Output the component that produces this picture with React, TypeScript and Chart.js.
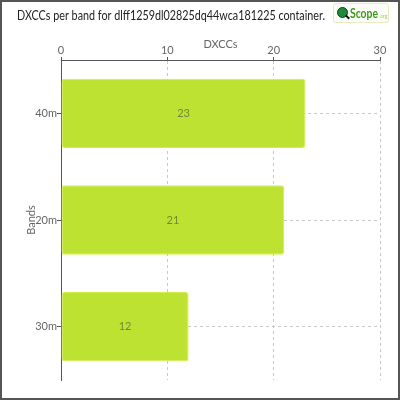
import React, { useEffect, useRef } from "react";
import { Chart, registerables } from "chart.js";

Chart.register(...registerables);

const titleText = "DXCCs per band for dlff1259dl02825dq44wca181225 container.";
const categories = ["40m", "20m", "30m"];
const values = [23, 21, 12];
const xTicks = [0, 10, 20, 30];
const xTitle = "DXCCs";
const yTitle = "Bands";

const FONT = "Lato, 'Liberation Sans', sans-serif";

const valueLabels = {
  id: "valueLabels",
  afterDatasetsDraw(chart: any) {
    const { ctx } = chart;
    const meta = chart.getDatasetMeta(0);
    ctx.save();
    ctx.font = `11px ${FONT}`;
    ctx.fillStyle = "#71893a";
    ctx.textAlign = "center";
    ctx.textBaseline = "middle";
    meta.data.forEach((bar: any, i: number) => {
      const x = (bar.x + bar.base) / 2;
      ctx.fillText(String(values[i]), x, bar.y);
    });
    ctx.restore();
  },
};

const frame = {
  id: "frame",
  beforeDraw(chart: any) {
    const { ctx, width, height } = chart;
    ctx.save();
    ctx.fillStyle = "#ffffff";
    ctx.fillRect(0, 0, width, height);
    ctx.restore();
  },
  afterDraw(chart: any) {
    const { ctx, width, height } = chart;
    ctx.save();
    // condensed title text
    ctx.font = `13px ${FONT}`;
    ctx.fillStyle = "#222222";
    ctx.textBaseline = "middle";
    ctx.textAlign = "left";
    const w = ctx.measureText(titleText).width;
    const target = 308;
    const sx = w > target ? target / w : 1;
    ctx.translate(17, 16);
    ctx.scale(sx, 1);
    ctx.fillText(titleText, 0, 0);
    ctx.restore();
    ctx.save();
    ctx.strokeStyle = "#555555";
    ctx.lineWidth = 2;
    ctx.strokeRect(1, 1, width - 2, height - 2);
    ctx.restore();
  },
};

export default function App() {
  const ref = useRef<HTMLCanvasElement | null>(null);
  useEffect(() => {
    document.body.style.margin = "0";
    if (!ref.current) return;
    const chart = new Chart(ref.current, {
      type: "bar",
      data: {
        labels: categories,
        datasets: [
          {
            data: values,
            backgroundColor: "#bde232",
            borderColor: "#d2ee4a",
            borderWidth: 1,
            borderRadius: 3,
            borderSkipped: false,
            barPercentage: 0.65,
            categoryPercentage: 1,
          },
        ],
      },
      options: {
        indexAxis: "y",
        animation: false,
        responsive: false,
        devicePixelRatio: 1,
        layout: { padding: { left: 17, right: 20, top: 29.6, bottom: 20 } },
        plugins: {
          legend: { display: false },
          tooltip: { enabled: false },
          title: { display: false },
        },
        scales: {
          x: {
            position: "top",
            min: 0,
            max: 30,
            afterBuildTicks(scale: any) {
              scale.ticks = xTicks.map((v) => ({ value: v }));
            },
            afterFit(scale: any) {
              scale.height = 30.4;
            },
            title: {
              display: true,
              text: xTitle,
              color: "#666666",
              font: { family: FONT, size: 11 },
              padding: { top: 8, bottom: 0 },
            },
            ticks: {
              color: "#666666",
              font: { family: FONT, size: 11 },
              padding: 0,
              maxRotation: 0,
            },
            border: { display: true, color: "#555555", width: 1, dash: [3, 3] },
            grid: {
              color: "#c8c8c8",
              tickColor: "#555555",
              tickLength: 3,
              lineWidth: 1,
            },
          },
          y: {
            afterFit(scale: any) {
              scale.width = 44;
            },
            title: {
              display: true,
              text: yTitle,
              color: "#666666",
              font: { family: FONT, size: 11 },
              padding: { top: 8, bottom: 0 },
            },
            ticks: {
              color: "#666666",
              font: { family: FONT, size: 11 },
              padding: 0,
            },
            border: { display: true, color: "#555555", width: 1, dash: [3, 3] },
            grid: {
              offset: false,
              color: "#c8c8c8",
              tickColor: "#555555",
              tickLength: 4,
            },
          },
        },
      } as any,
      plugins: [frame, valueLabels],
    });
    return () => chart.destroy();
  }, []);

  return (
    <div style={{ position: "relative", width: 400, height: 400 }}>
      <canvas ref={ref} width={400} height={400} style={{ display: "block" }} />
      <div
        style={{
          position: "absolute",
          left: 333,
          top: 3,
          width: 56,
          height: 20,
          boxSizing: "border-box",
          border: "1px solid #e4ecc4",
          borderRadius: 3,
          background: "#fcfdf6",
          display: "flex",
          alignItems: "center",
          fontFamily: FONT,
          overflow: "hidden",
        }}
      >
        <div style={{ position: "relative", width: 14, height: 16, marginLeft: 2, flex: "none" }}>
          <div
            style={{
              position: "absolute",
              left: 1,
              top: 2,
              width: 9,
              height: 9,
              borderRadius: "50%",
              background: "#1e8a3c",
              border: "1px solid #0d3f1a",
            }}
          />
          <div
            style={{
              position: "absolute",
              left: 9,
              top: 11,
              width: 5,
              height: 2,
              background: "#111",
              transform: "rotate(45deg)",
            }}
          />
        </div>
        <span
          style={{
            color: "#3d9a1e",
            fontWeight: "bold",
            fontSize: 13,
            display: "inline-block",
            transform: "scaleX(0.8)",
            transformOrigin: "left center",
            marginRight: -6,
          }}
        >
          Scope
        </span>
        <span style={{ color: "#9ccf6a", fontSize: 5, marginTop: 5 }}>.org</span>
      </div>
    </div>
  );
}
